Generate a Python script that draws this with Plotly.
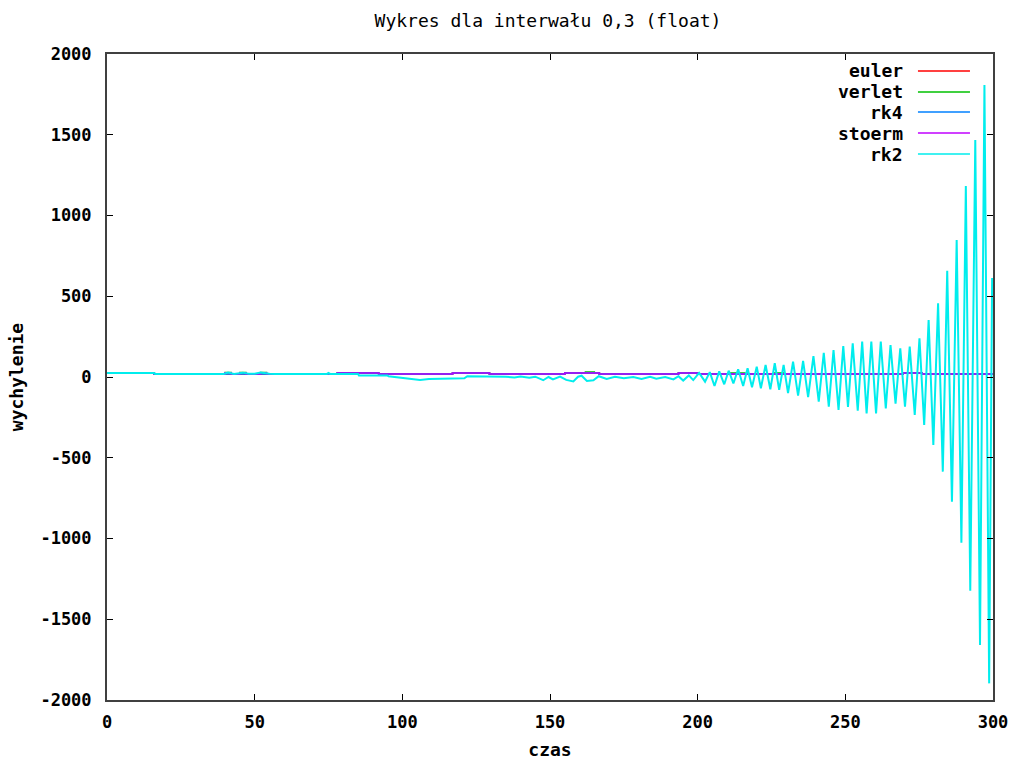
import plotly.graph_objects as go

# ---------------- data ----------------
series_names = ["euler", "verlet", "rk4", "stoerm", "rk2"]
series_colors = ["#ff0000", "#00c000", "#0080ff", "#c000ff", "#00eded"]

# near-flat step-like series (knots, drawn with horizontal-then-vertical steps)
euler_t = [0, 16, 78, 92, 117, 129.5, 155, 166.7, 193.5, 200, 269.5, 276, 300]
euler_v = [25, 19, 25, 19, 25, 19, 25, 19, 25, 19, 25, 19, 19]

verlet_t = [0, 16, 40, 42, 45, 47, 52, 54, 78, 92, 117, 129.5, 155, 162, 165,
            166.7, 193.5, 200, 203, 211, 216, 226, 229, 269.5, 276, 300]
verlet_v = [25, 19, 27, 19, 27, 19, 27, 19, 25, 19, 25, 19, 25, 30, 25,
            19, 25, 19, 19, 25, 19, 25, 19, 25, 19, 19]

rk4_t = [0, 16, 78, 92, 117, 129.5, 155, 166.7, 193.5, 200, 269.5, 276, 300]
rk4_v = [25, 19, 25, 19, 25, 19, 25, 19, 25, 19, 25, 19, 19]

stoerm_t = [0, 16, 40, 42, 45, 47, 52, 54, 78, 92, 117, 129.5, 155, 166.7,
            193.5, 200, 269.5, 276, 300]
stoerm_v = [25, 19, 26, 19, 26, 19, 26, 19, 25, 19, 25, 19, 25, 19,
            25, 19, 25, 19, 19]

# rk2: slow drift, then growing oscillation (extremes)
rk2_t = [0, 16, 16.3, 39.5, 41, 43, 46, 48, 50, 52, 55, 57, 74.5, 75, 75.5,
         85, 85.3, 95, 95.3, 100, 103, 106, 109, 115, 121, 122, 128,
         130, 135, 138, 140, 143, 145, 147.7, 149.5, 151, 153.4, 155.5, 157.9,
         159.5, 160.7, 162.5, 164.7, 166.5, 169.2, 172, 175, 178.2, 181,
         183.9, 186, 189, 191.8, 193.5, 195.1, 197, 198.5, 200.5,
         202.5, 204.1, 205.7, 207.3, 209.0, 210.5, 212.1, 213.7, 215.4, 216.9,
         218.4, 220.0, 221.4, 223.0, 224.6, 226.1, 227.6, 229.1, 230.6, 232.3,
         234.0, 235.7, 237.4, 239.2, 241.0, 242.7, 244.4, 246.0, 247.7, 249.3,
         250.9, 252.5, 254.2, 255.7, 257.2, 258.8, 260.4, 262.0, 263.7, 265.3,
         267.0, 268.6, 270.2, 271.8, 273.5, 275.1, 276.7, 278.2, 279.8, 281.4,
         283.0, 284.5, 286.1, 287.7, 289.3, 290.8, 292.3, 294.0, 295.6, 297.1,
         298.7, 299.7]
rk2_v = [25, 25, 19, 19, 28, 19, 27, 20, 20, 28, 20, 19, 19, 25, 19,
         19, 10, 10, 5, -6, -12, -18, -12, -10, -8, 5, 5,
         5, 2, -3, 3, -5, 2, -20, 0, -15, 3, -18, -28,
         2, 8, -25, -20, 5, -12, 2, -8, 0, -12,
         2, -10, 0, -15, 5, -22, 10, -19, 25,
         -29, 30, -56, 35, -45, 39, -40, 48, -56, 54,
         -64, 64, -70, 74, -76, 85, -80, 75, -99, 95,
         -115, 100, -125, 130, -153, 150, -184, 167, -204, 192,
         -185, 208, -209, 219, -225, 219, -225, 219, -194, 198,
         -165, 178, -184, 188, -235, 240, -297, 353, -421, 456,
         -586, 658, -772, 848, -1026, 1182, -1323, 1467, -1659, 1808,
         -1897, 613]

x_ticks = [0, 50, 100, 150, 200, 250, 300]
y_ticks = [-2000, -1500, -1000, -500, 0, 500, 1000, 1500, 2000]

series_t = [euler_t, verlet_t, rk4_t, stoerm_t, rk2_t]
series_v = [euler_v, verlet_v, rk4_v, stoerm_v, rk2_v]
series_shape = ["hv", "hv", "hv", "hv", "linear"]
series_width = [1.6, 1.6, 1.6, 1.6, 2.0]

# ---------------- figure ----------------
FONT = "DejaVu Sans Mono"
fig = go.Figure()
for name, col, t, v, shp, w in zip(series_names, series_colors, series_t, series_v,
                                   series_shape, series_width):
    fig.add_trace(go.Scatter(x=t, y=v, mode="lines", name=name,
                             line=dict(color=col, width=w, shape=shp),
                             showlegend=False))

# gnuplot-style legend: right-aligned text, sample line to the right
leg_y = [0.9737, 0.9412, 0.9102, 0.8777, 0.8452]
annotations = []
shapes = []
for name, col, yy in zip(series_names, series_colors, leg_y):
    annotations.append(dict(x=0.9007, y=yy, xref="paper", yref="paper",
                            text="<b>%s</b>" % name, showarrow=False,
                            xanchor="right", yanchor="middle",
                            font=dict(family=FONT, size=18, color="#000")))
    shapes.append(dict(type="line", xref="paper", yref="paper",
                       x0=0.9153, x1=0.9740, y0=yy, y1=yy,
                       line=dict(color=col, width=1.6)))

axis_common = dict(showgrid=False, zeroline=False, showline=True,
                   linecolor="#404040", linewidth=2, mirror="ticks",
                   ticks="inside", ticklen=6, tickwidth=1, tickcolor="#000",
                   tickfont=dict(family=FONT, size=17, color="#000"))

fig.update_layout(
    width=1015, height=760,
    margin=dict(l=107, r=22, t=54, b=60),
    paper_bgcolor="white", plot_bgcolor="white",
    title=dict(text="Wykres dla interwału 0,3 (float)", x=548 / 1015, xanchor="center",
               y=1 - 21 / 760, yanchor="middle", yref="container",
               font=dict(family=FONT, size=18, color="#000")),
    xaxis=dict(range=[0, 300], tickvals=x_ticks, ticktext=["<b>%d</b>" % v for v in x_ticks],
               title=dict(text="<b>czas</b>", standoff=14,
                          font=dict(family=FONT, size=18, color="#000")),
               ticklabelstandoff=6, automargin=False, **axis_common),
    yaxis=dict(range=[-2000, 2000], tickvals=y_ticks, ticktext=["<b>%d</b>" % v for v in y_ticks],
               title=dict(text="<b>wychylenie</b>", standoff=12,
                          font=dict(family=FONT, size=18, color="#000")),
               ticklabelstandoff=10, automargin=False, **axis_common),
    annotations=annotations, shapes=shapes,
)

fig.write_html("out.html")
